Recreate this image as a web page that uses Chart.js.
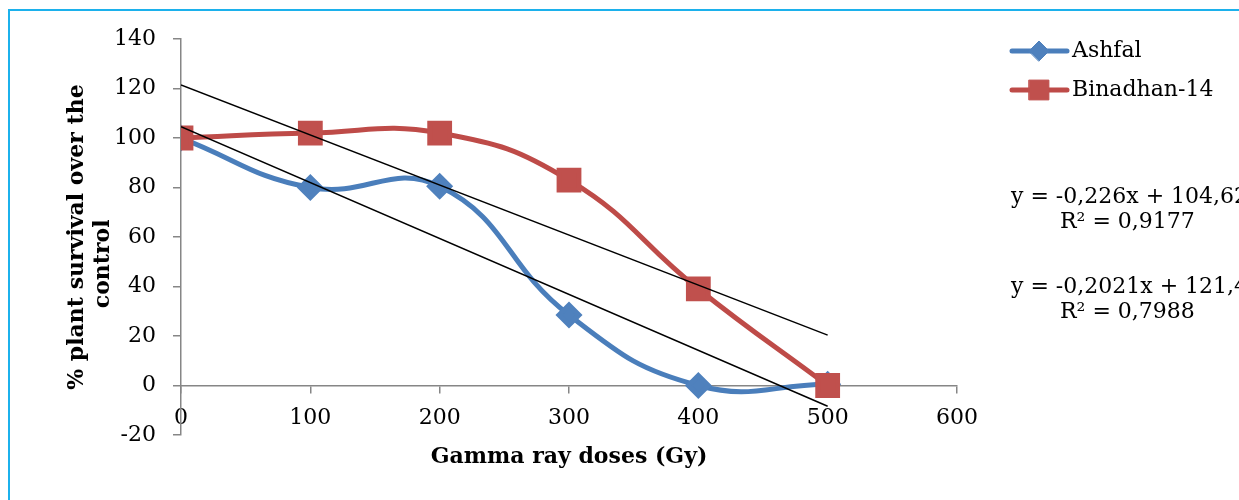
<!DOCTYPE html>
<html>
<head>
<meta charset="utf-8">
<script src="https://cdn.jsdelivr.net/npm/chart.js@4"></script>
<style>
  html, body { margin: 0; padding: 0; background: #fff; }
</style>
</head>
<body>
<canvas id="chart" width="1239" height="500"></canvas>
<script>
// values
const doses = [0, 100, 200, 300, 400, 500];
const ashfal = [100, 80, 80.5, 28.5, 0, 0.5];
const binadhan = [100, 102, 102, 83, 39, 0];
const trendSlopes = [-0.226, -0.2021];
const trendIntercepts = [104.62, 121.4];
const trendRange = [0, 500];
const equations = [
  ["y = -0,226x + 104,62", "R² = 0,9177"],
  ["y = -0,2021x + 121,4", "R² = 0,7988"]
];

const SERIF = "'DejaVu Serif', serif";
const BLUE = "#4a7ebb", BLUE_PT = "#4f81bd";
const RED = "#be4b48", RED_PT = "#c0504d";
const AXIS = "#868686";

const toPoints = ys => doses.map((x, i) => ({ x, y: ys[i] }));
const trendPoints = i => trendRange.map(x => ({ x, y: trendSlopes[i] * x + trendIntercepts[i] }));

const decor = {
  id: "decor",
  beforeDraw(chart) {
    const ctx = chart.ctx;
    ctx.save();
    ctx.fillStyle = "#1cb1ec";
    ctx.fillRect(8, 9, chart.width - 8, 2);
    ctx.fillRect(8, 9, 2, chart.height - 9);
    ctx.restore();
  },
  afterDraw(chart) {
    const ctx = chart.ctx;
    const x0 = chart.chartArea.right + 55;
    ctx.save();
    ctx.font = "22px " + SERIF;
    ctx.textBaseline = "middle";
    ctx.fillStyle = "#000";
    // legend
    const items = [
      { label: "Ashfal", color: BLUE, pt: BLUE_PT, style: "rectRot", r: 10, y: 51 },
      { label: "Binadhan-14", color: RED, pt: RED_PT, style: "rect", r: 14, y: 90 }
    ];
    items.forEach(it => {
      ctx.strokeStyle = it.color;
      ctx.lineWidth = 5;
      ctx.lineCap = "round";
      ctx.beginPath();
      ctx.moveTo(x0, it.y);
      ctx.lineTo(x0 + 55, it.y);
      ctx.stroke();
      ctx.fillStyle = it.pt;
      ctx.strokeStyle = it.pt;
      ctx.lineWidth = 1;
      Chart.helpers.drawPoint(ctx, { pointStyle: it.style, radius: it.r, rotation: 0, borderWidth: 1 }, x0 + 27, it.y);
      ctx.fillStyle = "#000";
      ctx.fillText(it.label, x0 + 60, it.y);
    });
    // trendline equations
    ctx.fillText(equations[0][0], x0 - 1, 197);
    ctx.fillText(equations[0][1], x0 + 48, 222);
    ctx.fillText(equations[1][0], x0 - 1, 287);
    ctx.fillText(equations[1][1], x0 + 48, 312);
    ctx.restore();
  }
};

new Chart(document.getElementById("chart").getContext("2d"), {
  type: "line",
  data: {
    datasets: [
      { label: "trend Ashfal", data: trendPoints(0), borderColor: "#000", borderWidth: 1.5, pointRadius: 0, tension: 0, order: 0 },
      { label: "trend Binadhan-14", data: trendPoints(1), borderColor: "#000", borderWidth: 1.5, pointRadius: 0, tension: 0, order: 0 },
      { label: "Binadhan-14", data: toPoints(binadhan), borderColor: RED, borderWidth: 5,
        pointStyle: "rect", pointRadius: 14, pointBackgroundColor: RED_PT, pointBorderColor: RED_PT,
        tension: 0.45, order: 1 },
      { label: "Ashfal", data: toPoints(ashfal), borderColor: BLUE, borderWidth: 5,
        pointStyle: "rectRot", pointRadius: 10, pointBackgroundColor: BLUE_PT, pointBorderColor: BLUE_PT,
        tension: 0.45, order: 2 }
    ]
  },
  options: {
    responsive: false,
    animation: false,
    events: [],
    layout: { padding: { top: 39, right: 282, bottom: 65, left: 0 } },
    plugins: { legend: { display: false }, tooltip: { enabled: false } },
    scales: {
      x: {
        type: "linear",
        position: { y: 0 },
        min: 0, max: 600,
        ticks: { stepSize: 100, color: "#000", font: { family: SERIF, size: 22 }, padding: 13, maxRotation: 0 },
        grid: { drawOnChartArea: false, drawTicks: true, tickLength: 7, color: AXIS, lineWidth: 1.5 },
        border: { color: AXIS, width: 1.5 },
        title: { display: true, text: "Gamma ray doses (Gy)", color: "#000",
          font: { family: SERIF, size: 22, weight: "bold" }, padding: { top: 0, bottom: -20 } },
        afterFit: s => { s.height = 65; }
      },
      y: {
        min: -20, max: 140,
        ticks: { stepSize: 20, color: "#000", font: { family: SERIF, size: 22 }, padding: 17 },
        grid: { drawOnChartArea: false, drawTicks: true, tickLength: 8, color: AXIS, lineWidth: 1.5 },
        border: { color: AXIS, width: 1.5 },
        title: { display: true, text: ["% plant survival over the", "control       "], color: "#000",
          font: { family: SERIF, size: 22, weight: "bold", lineHeight: 1.15 }, padding: { top: 65, bottom: 0 } },
        afterFit: s => { s.width = 181; }
      }
    }
  },
  plugins: [decor]
});
</script>
</body>
</html>
